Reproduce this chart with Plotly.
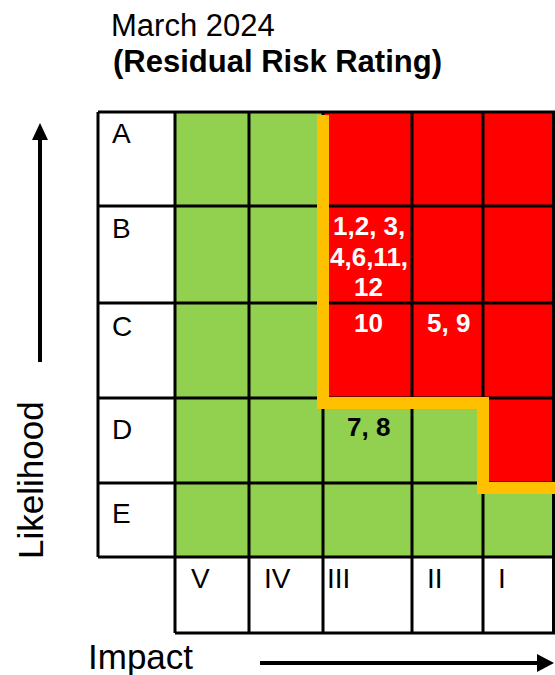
import plotly.graph_objects as go

# ---------------- data ----------------
likelihood = ["A", "B", "C", "D", "E"]
impact = ["V", "IV", "III", "II", "I"]
# 1 = red (above appetite), 0 = green
rating = [
    [0, 0, 1, 1, 1],
    [0, 0, 1, 1, 1],
    [0, 0, 1, 1, 1],
    [0, 0, 0, 0, 1],
    [0, 0, 0, 0, 0],
]
cell_labels = {
    ("B", "III"): "1,2, 3,\n4,6,11,\n12",
    ("C", "III"): "10",
    ("C", "II"): "5, 9",
    ("D", "III"): "7, 8",
}
title_line1 = "March 2024"
title_line2 = "(Residual Risk Rating)"
x_title = "Impact"
y_title = "Likelihood"

# ---------------- layout geometry (pixels) ----------------
W, H = 555, 675
x_edges = [175, 249, 323, 412, 483, 555]
y_edges = [112, 206, 303, 398, 483, 557]
label_col_left = 98
bottom_row_bottom = 633
row_label_dy = [21, 22, 23, 31, 30]
col_label_dx = [15, 14, 3, 14, 14]
GREEN = "#92D050"
RED = "#FF0000"
ORANGE = "#FFC000"
FONT = "Liberation Sans, Arial, sans-serif"

fig = go.Figure()

fig.add_trace(go.Heatmap(
    x=x_edges, y=y_edges, z=rating,
    zmin=0, zmax=1,
    colorscale=[[0, GREEN], [0.5, GREEN], [0.5, RED], [1, RED]],
    showscale=False, hoverinfo="skip",
))

shapes = []
LW = 3
# horizontal grid lines
for y in y_edges:
    shapes.append(dict(type="line", x0=label_col_left, x1=W, y0=y, y1=y,
                       line=dict(color="black", width=LW), layer="above"))
shapes.append(dict(type="line", x0=x_edges[0], x1=W, y0=bottom_row_bottom, y1=bottom_row_bottom,
                   line=dict(color="black", width=LW), layer="above"))
# vertical grid lines
shapes.append(dict(type="line", x0=label_col_left, x1=label_col_left, y0=y_edges[0], y1=y_edges[-1],
                   line=dict(color="black", width=LW), layer="above"))
for i, x in enumerate(x_edges):
    xx = min(x, W - 1.5)
    shapes.append(dict(type="line", x0=xx, x1=xx, y0=y_edges[0], y1=bottom_row_bottom,
                       line=dict(color="black", width=LW), layer="above"))

# orange risk-appetite boundary computed from the rating matrix
n_rows, n_cols = len(rating), len(rating[0])
counts = []
for j in range(n_cols):
    c = 0
    while c < n_rows and rating[c][j] == 1:
        c += 1
    counts.append(c)
j0 = next(j for j in range(n_cols) if counts[j] > 0)
half = 6
hoff = 5
top_start = y_edges[0] + 3
pts = [(x_edges[j0], top_start)]
for j in range(j0, n_cols):
    y = y_edges[counts[j]] + hoff
    pts.append((x_edges[j], y))
    pts.append((x_edges[j + 1], y))
for (xa, ya), (xb, yb) in zip(pts[:-1], pts[1:]):
    if xa == xb:
        if ya == yb:
            continue
        x0, x1 = xa - half, xa + half
        y0, y1 = min(ya, yb) - half, max(ya, yb) + half
        if min(ya, yb) == top_start:
            y0 = top_start
    else:
        x0, x1 = min(xa, xb) - half, max(xa, xb) + half
        y0, y1 = ya - half, ya + half
    shapes.append(dict(type="rect", x0=x0, x1=min(x1, W), y0=y0, y1=y1,
                       fillcolor=ORANGE, line=dict(width=0), layer="above"))

# arrows
shapes.append(dict(type="line", x0=40, x1=40, y0=362, y1=139,
                   line=dict(color="black", width=4), layer="above"))
shapes.append(dict(type="path", path="M 32 140 L 48 140 L 40 123 Z",
                   fillcolor="black", line=dict(width=0), layer="above"))
shapes.append(dict(type="line", x0=260, x1=538, y0=663, y1=663,
                   line=dict(color="black", width=4), layer="above"))
shapes.append(dict(type="path", path="M 537 654 L 537 672 L 554 663 Z",
                   fillcolor="black", line=dict(width=0), layer="above"))

annotations = []
# row labels
for i, lab in enumerate(likelihood):
    annotations.append(dict(x=label_col_left + 12, y=y_edges[i] + row_label_dy[i], text=lab,
                            xanchor="left", yanchor="middle", showarrow=False,
                            font=dict(family=FONT, size=28, color="black")))
# column labels
for j, lab in enumerate(impact):
    annotations.append(dict(x=x_edges[j] + col_label_dx[j] - 1, y=y_edges[-1] + 21, text=lab,
                            xanchor="left", yanchor="middle", showarrow=False,
                            font=dict(family=FONT, size=28, color="black")))
# cell labels
for (r, c), txt in cell_labels.items():
    i, j = likelihood.index(r), impact.index(c)
    xc = (x_edges[j] + x_edges[j + 1]) / 2
    col = "white" if rating[i][j] == 1 else "black"
    for k, line in enumerate(txt.split("\n")):
        annotations.append(dict(x=xc + 1, y=y_edges[i] + 20 + 30.5 * k + (9 if i == 3 else 0),
                                text="<b>" + line + "</b>",
                                xanchor="center", yanchor="middle", showarrow=False,
                                font=dict(family=FONT, size=26, color=col)))
# titles
annotations.append(dict(x=109, y=25, text=title_line1, xanchor="left", yanchor="middle",
                        showarrow=False, font=dict(family=FONT, size=31, color="black")))
annotations.append(dict(x=111, y=61, text="<b>" + title_line2 + "</b>", xanchor="left",
                        yanchor="middle", showarrow=False,
                        font=dict(family=FONT, size=31, color="black")))
annotations.append(dict(x=86, y=656, text=x_title, xanchor="left", yanchor="middle",
                        showarrow=False, font=dict(family=FONT, size=35, color="black")))
annotations.append(dict(x=30, y=480, text=y_title, textangle=-90, xanchor="center",
                        yanchor="middle", showarrow=False,
                        font=dict(family=FONT, size=35, color="black")))

fig.update_layout(
    width=W, height=H,
    margin=dict(l=0, r=0, t=0, b=0),
    paper_bgcolor="white", plot_bgcolor="white",
    xaxis=dict(range=[0, W], visible=False, fixedrange=True),
    yaxis=dict(range=[H, 0], visible=False, fixedrange=True),
    shapes=shapes, annotations=annotations, showlegend=False,
)

fig.write_html("out.html", config={"displayModeBar": False},
               post_script="document.body.style.margin='0';document.body.style.overflow='hidden';")
